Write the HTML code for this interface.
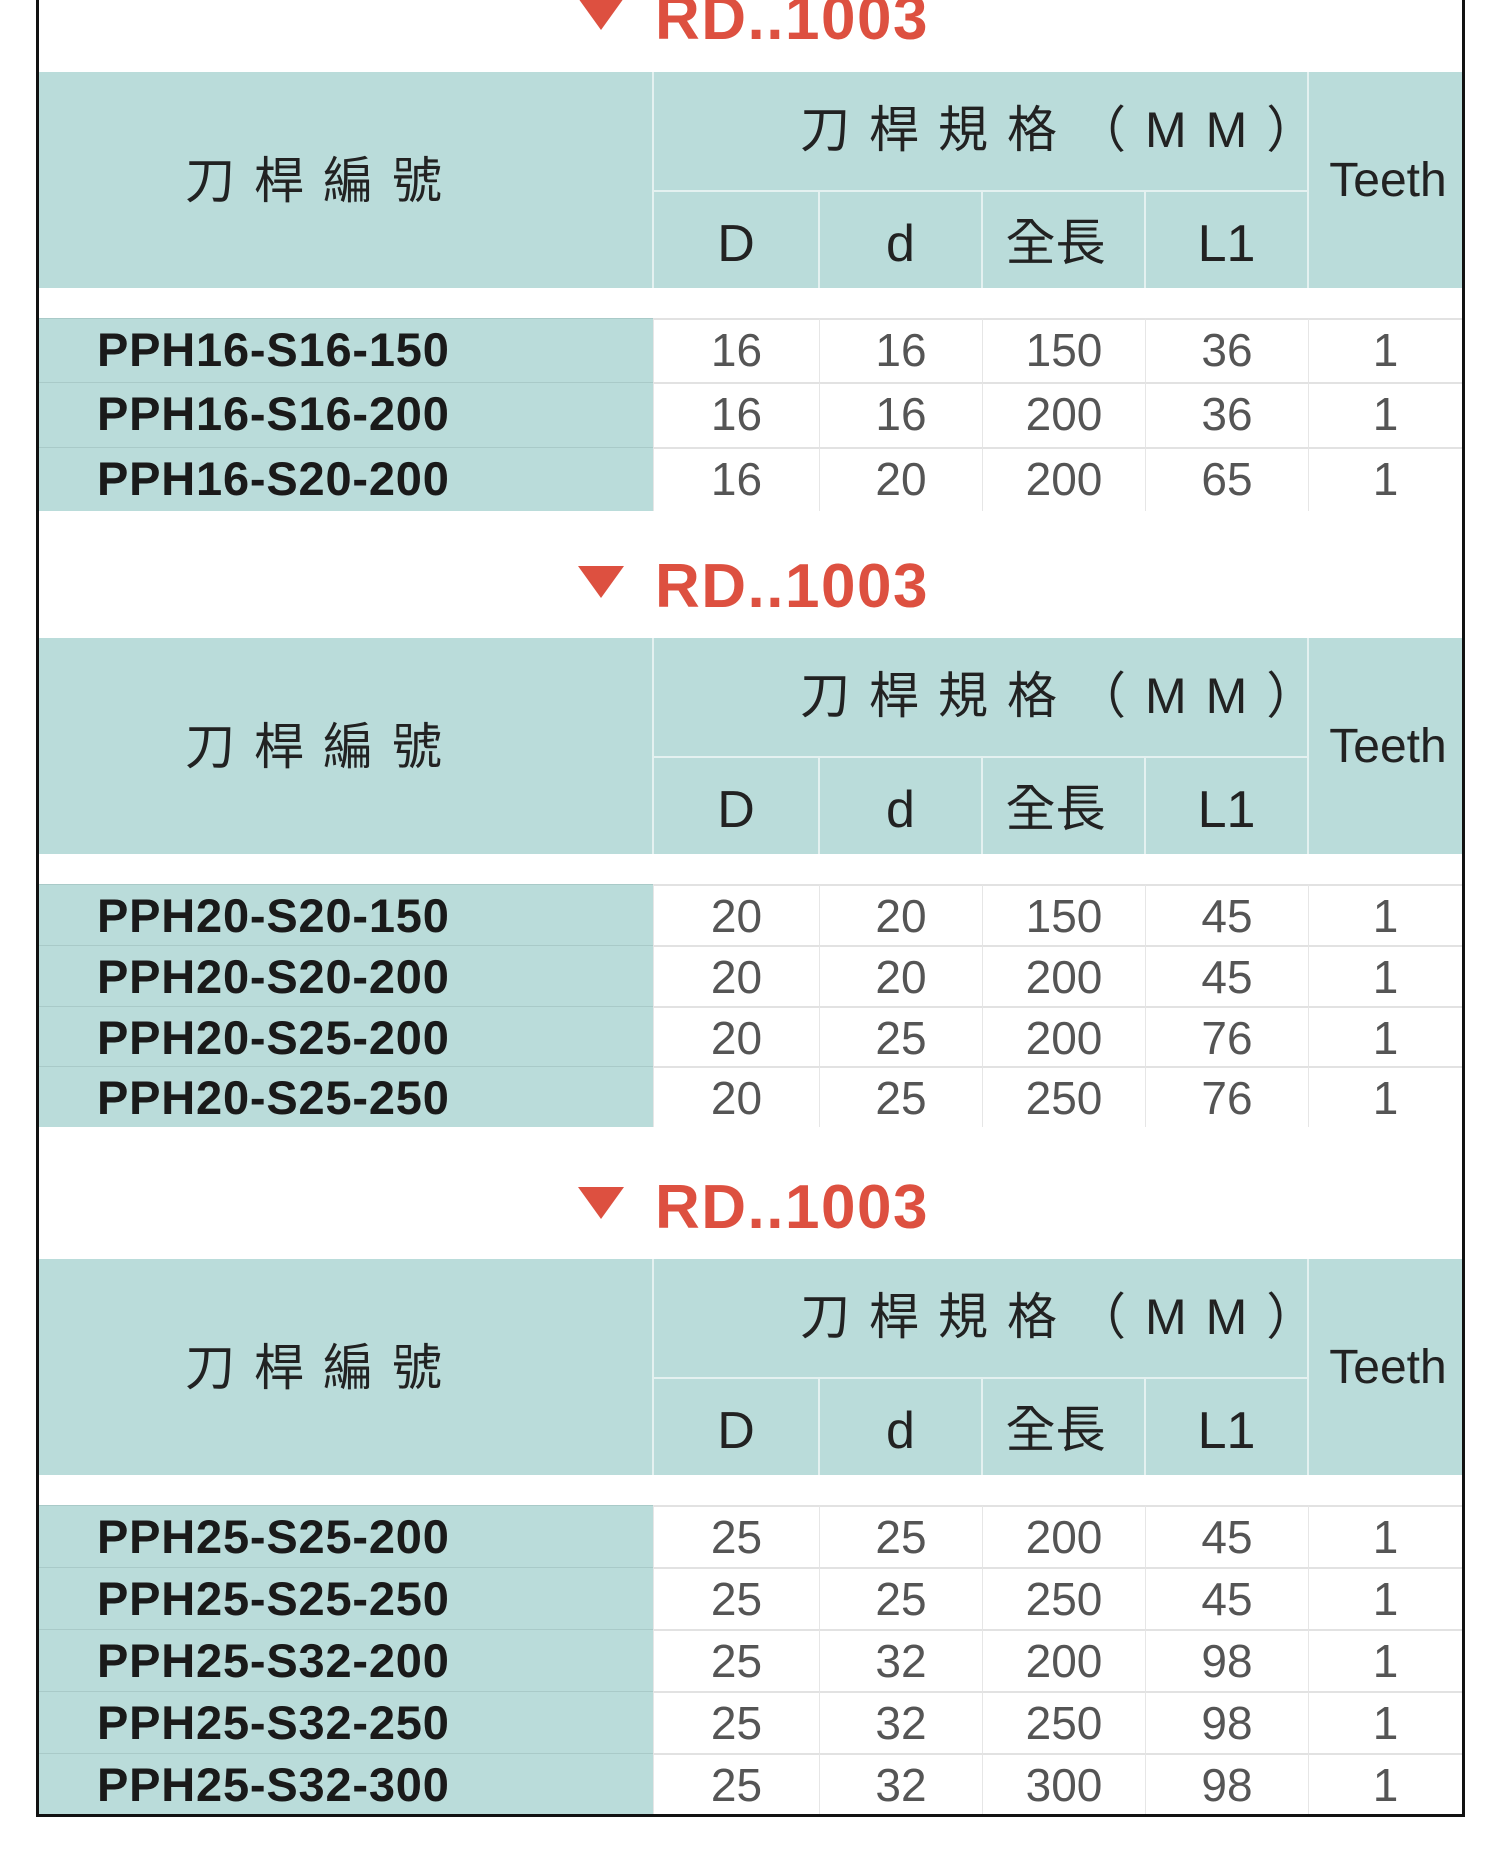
<!DOCTYPE html>
<html><head><meta charset="utf-8"><style>
*{margin:0;padding:0;box-sizing:border-box}
body{width:1500px;height:1851px;background:#fff;position:relative;overflow:hidden;font-family:"Liberation Sans","Noto Sans CJK TC",sans-serif}
.frame{position:absolute;left:36px;top:-5px;width:1429px;height:1822px;border:3px solid #111;border-top:none;z-index:5}
.sec{position:absolute;left:38px;width:1424px}
.tri{position:absolute;left:540px;width:0;height:0;border-left:23px solid transparent;border-right:23px solid transparent;border-top:32px solid #dd5040}
.title{position:absolute;left:617px;font-weight:bold;font-size:62px;letter-spacing:1.5px;color:#dd5040;line-height:60px;white-space:nowrap}
.hdr{position:absolute;left:0;top:0;width:1424px;height:216px;background:#badcda}
.vl{position:absolute;background:#e4f1f0;width:2px}
.hl{position:absolute;background:#e4f1f0;height:2px}
.ht{position:absolute;color:#222;white-space:nowrap;line-height:1}
.row{position:absolute;left:0;width:1424px}
.nm{position:absolute;left:0;top:0;width:615px;background:#badcda;border-top:1px solid #a9cac8}
.nm span{position:absolute;left:59px;top:6px;font-weight:bold;font-size:47px;letter-spacing:0.8px;color:#1a1a1a;line-height:50px}
.c{position:absolute;top:0;border-top:2px solid #e2e2e2;border-left:1px solid #e6e6e6;text-align:center;font-size:46px;color:#555;line-height:60px}
</style></head><body>
<div class="frame"></div>

<div class="sec" style="top:72px">
 <div class="tri" style="top:-74px"></div><div class="title" style="top:-83px">RD..1003</div>
</div>
<div class="sec" style="top:638px">
 <div class="tri" style="top:-72px"></div><div class="title" style="top:-81px">RD..1003</div>
</div>
<div class="sec" style="top:1259px">
 <div class="tri" style="top:-72px"></div><div class="title" style="top:-81px">RD..1003</div>
</div>

<div id="s1"></div>
<script>
var secs=[[72,511,[["PPH16-S16-150","16","16","150","36","1"],["PPH16-S16-200","16","16","200","36","1"],["PPH16-S20-200","16","20","200","65","1"]]],
[638,1127,[["PPH20-S20-150","20","20","150","45","1"],["PPH20-S20-200","20","20","200","45","1"],["PPH20-S25-200","20","25","200","76","1"],["PPH20-S25-250","20","25","250","76","1"]]],
[1259,1815,[["PPH25-S25-200","25","25","200","45","1"],["PPH25-S25-250","25","25","250","45","1"],["PPH25-S32-200","25","32","200","98","1"],["PPH25-S32-250","25","32","250","98","1"],["PPH25-S32-300","25","32","300","98","1"]]]];
var cols=[[615,166],[781,163],[944,163],[1107,163],[1270,154]];
var h="";
secs.forEach(function(s){
 var H=s[0],E=s[1]-H,rows=s[2],n=rows.length;
 var start=246,rh=(E-start)/n;
 h+='<div class="sec" style="top:'+H+'px"><div class="hdr">';
 h+='<div class="vl" style="left:614px;top:0;height:216px"></div><div class="vl" style="left:1269px;top:0;height:216px"></div>';
 h+='<div class="hl" style="left:615px;top:118px;width:655px"></div>';
 [780,943,1106].forEach(function(x){h+='<div class="vl" style="left:'+x+'px;top:119px;height:97px"></div>'});
 h+='<div class="ht" style="left:147px;top:84px;font-size:50px;letter-spacing:19px">刀桿編號</div>';
 h+='<div class="ht" style="left:762px;top:33px;font-size:50px;letter-spacing:19px">刀桿規格（MM）</div>';
 h+='<div class="ht" style="left:1285px;top:85px;font-size:48px;width:130px;text-align:center">Teeth</div>';
 var sub=["D","d","全長","L1"];
 sub.forEach(function(t,i){h+='<div class="ht" style="left:'+(cols[i][0]-(i==2?8:0))+'px;top:146px;width:'+cols[i][1]+'px;text-align:center;font-size:'+(i==2?50:52)+'px">'+t+'</div>'});
 h+='</div>';
 rows.forEach(function(r,j){
  var top=Math.round(start+j*rh), bot=Math.round(start+(j+1)*rh), ht=bot-top;
  h+='<div class="row" style="top:'+top+'px;height:'+ht+'px"><div class="nm" style="height:'+ht+'px"><span>'+r[0]+'</span></div>';
  for(var k=0;k<5;k++)h+='<div class="c" style="left:'+cols[k][0]+'px;width:'+cols[k][1]+'px;height:'+ht+'px">'+r[k+1]+'</div>';
  h+='</div>';
 });
 h+='</div>';
});
document.getElementById("s1").outerHTML=h;
</script>
</body></html>
